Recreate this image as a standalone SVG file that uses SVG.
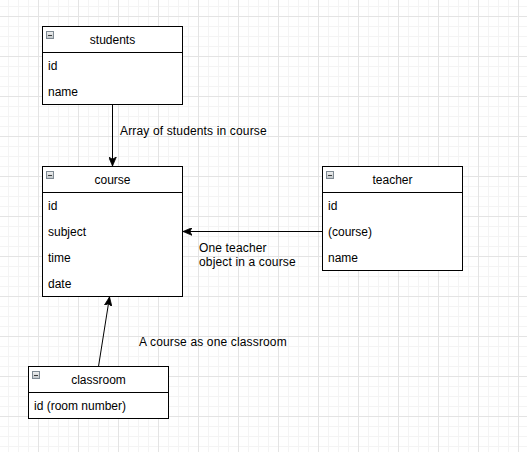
<svg xmlns="http://www.w3.org/2000/svg" width="527" height="452" viewBox="0 0 527 452">
  <defs>
    <pattern id="grid" x="-2" y="-24" width="40" height="40" patternUnits="userSpaceOnUse">
      <path d="M10.5,0 V40 M20.5,0 V40 M30.5,0 V40 M0,10.5 H40 M0,20.5 H40 M0,30.5 H40" stroke="#f4f4f4" stroke-width="1" fill="none"/>
      <path d="M0.5,0 V40 M0,0.5 H40" stroke="#e4e4e4" stroke-width="1" fill="none"/>
    </pattern>
    <linearGradient id="iconGrad" x1="0" y1="0" x2="0" y2="1">
      <stop offset="0" stop-color="#f2f2f2"/>
      <stop offset="1" stop-color="#bfc4c8"/>
    </linearGradient>
    <marker id="arrow" viewBox="0 0 10 8" refX="9" refY="4" markerWidth="10" markerHeight="8" markerUnits="userSpaceOnUse" orient="auto">
      <path d="M9,4 L0,0.2 L2.2,4 L0,7.8 Z" fill="#000" stroke="#000" stroke-width="0.8" stroke-linejoin="miter"/>
    </marker>
    <g id="minus">
      <rect x="0.5" y="0.5" width="7" height="7" fill="url(#iconGrad)" stroke="#7f8a93" stroke-width="1"/>
      <path d="M2,4.5 H6" stroke="#3c3c3c" stroke-width="1"/>
    </g>
  </defs>
  <style>
    .box { fill: #ffffff; stroke: #000000; stroke-width: 1; }
    .sep { stroke: #000000; stroke-width: 1; }
    .title { font-family: "Liberation Sans", Arial, sans-serif; font-size: 12px; fill: #000000; text-anchor: middle; }
    .row { font-family: "Liberation Sans", Arial, sans-serif; font-size: 12px; fill: #000000; }
    .lbl { font-family: "Liberation Sans", Arial, sans-serif; font-size: 12px; fill: #000000; letter-spacing: 0.15px; }
    .edge { stroke: #000000; stroke-width: 1; fill: none; }
  </style>

  <rect x="0" y="0" width="527" height="452" fill="#ffffff"/>
  <rect x="0" y="0" width="527" height="452" fill="url(#grid)"/>

  <g id="node-students">
    <rect class="box" x="42.5" y="26.5" width="140" height="78"/>
    <line class="sep" x1="42.5" y1="52.5" x2="182.5" y2="52.5"/>
    <use href="#minus" x="46" y="31"/>
    <text class="title" x="112.5" y="44">students</text>
    <text class="row" x="48" y="70">id</text>
    <text class="row" x="48" y="96">name</text>
  </g>

  <g id="node-course">
    <rect class="box" x="42.5" y="166.5" width="140" height="130"/>
    <line class="sep" x1="42.5" y1="192.5" x2="182.5" y2="192.5"/>
    <use href="#minus" x="46" y="171"/>
    <text class="title" x="112.5" y="184">course</text>
    <text class="row" x="48" y="210">id</text>
    <text class="row" x="48" y="236">subject</text>
    <text class="row" x="48" y="262">time</text>
    <text class="row" x="48" y="288">date</text>
  </g>

  <g id="node-teacher">
    <rect class="box" x="322.5" y="166.5" width="140" height="104"/>
    <line class="sep" x1="322.5" y1="192.5" x2="462.5" y2="192.5"/>
    <use href="#minus" x="326" y="171"/>
    <text class="title" x="392.5" y="184">teacher</text>
    <text class="row" x="328" y="210">id</text>
    <text class="row" x="328" y="236">(course)</text>
    <text class="row" x="328" y="262">name</text>
  </g>

  <g id="node-classroom">
    <rect class="box" x="28.5" y="366.5" width="140" height="52"/>
    <line class="sep" x1="28.5" y1="392.5" x2="168.5" y2="392.5"/>
    <use href="#minus" x="32" y="371"/>
    <text class="title" x="98.5" y="384">classroom</text>
    <text class="row" x="34" y="410">id (room number)</text>
  </g>

  <g id="connectors">
    <line class="edge" x1="112.5" y1="104.5" x2="112.5" y2="166" marker-end="url(#arrow)"/>
    <text class="lbl" x="120" y="135">Array of students in course</text>

    <line class="edge" x1="322.5" y1="231.5" x2="183" y2="231.5" marker-end="url(#arrow)"/>
    <text class="lbl" x="199" y="252">One teacher</text>
    <text class="lbl" x="199" y="266">object in a course</text>

    <line class="edge" x1="98.5" y1="366.5" x2="109.5" y2="297" marker-end="url(#arrow)"/>
    <text class="lbl" x="139" y="346">A course as one classroom</text>
  </g>
</svg>
